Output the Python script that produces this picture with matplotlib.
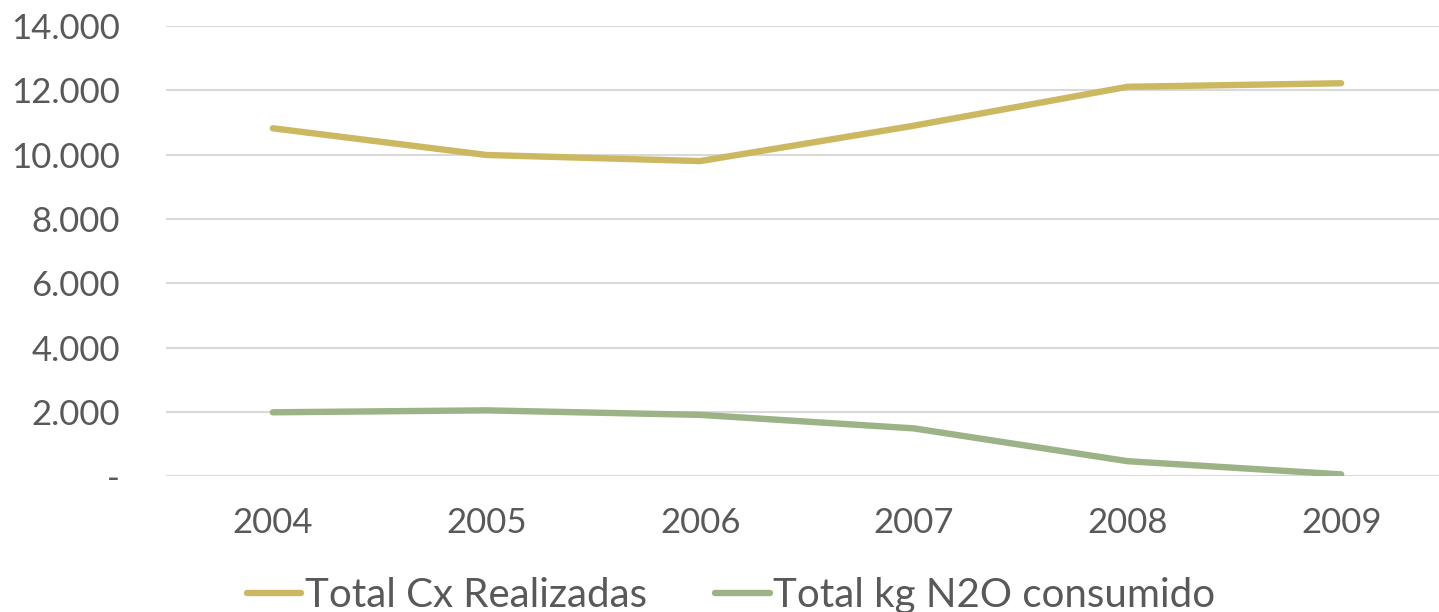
import matplotlib
matplotlib.use("Agg")
import matplotlib.pyplot as plt
from matplotlib.ticker import FuncFormatter

# data
years = ["2004", "2005", "2006", "2007", "2008", "2009"]
cx_realizadas = [10820, 9990, 9800, 10900, 12110, 12220]
kg_n2o = [1990, 2050, 1910, 1490, 470, 60]

plt.rcParams['font.family'] = ['Lato', 'DejaVu Sans']
text_col = '#595959'

fig = plt.figure(figsize=(14.39, 6.12), dpi=100)
ax = fig.add_axes([166 / 1439, (612 - 476.3) / 612, 1282 / 1439, (476.3 - 26) / 612])

x = range(len(years))
ax.plot(x, cx_realizadas, color='#CDB862', lw=4.6, solid_capstyle='round',
        label='Total Cx Realizadas')
ax.plot(x, kg_n2o, color='#9BB386', lw=4.6, solid_capstyle='round',
        label='Total kg N2O consumido')

ax.set_xlim(-0.5, len(years) - 0.5)
ax.set_ylim(0, 14000)
ax.set_yticks(range(0, 14001, 2000))
ax.yaxis.set_major_formatter(FuncFormatter(
    lambda v, p: '-' if v == 0 else f'{int(v):,}'.replace(',', '.')))
ax.set_xticks(list(x))
ax.set_xticklabels(years)

ax.grid(axis='y', color='#D9D9D9', lw=1.5)
ax.set_axisbelow(True)
for s in ax.spines.values():
    s.set_visible(False)
ax.tick_params(axis='both', length=0, labelsize=25, colors=text_col)
ax.tick_params(axis='y', pad=33)
ax.tick_params(axis='x', pad=22)

leg = fig.legend(loc='lower center', bbox_to_anchor=(0.508, -0.062), ncol=2,
                 frameon=False, fontsize=29, handlelength=1.35, handletextpad=0.08,
                 columnspacing=1.7)
for t in leg.get_texts():
    t.set_color(text_col)

fig.savefig('out.png', dpi=100)
